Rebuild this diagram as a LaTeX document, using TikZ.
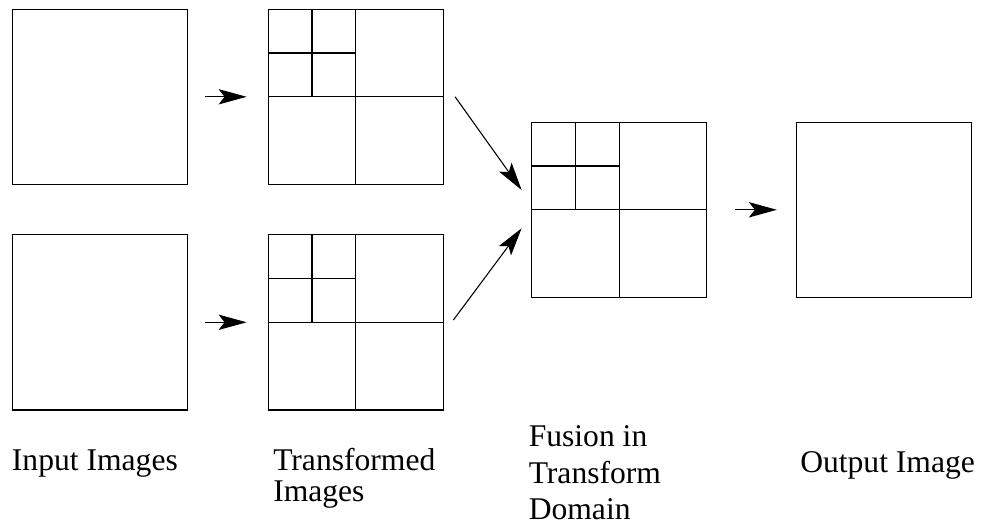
\documentclass[tikz,border=0pt]{standalone}
\usepackage{fontspec}
\setmainfont{Liberation Serif}
\newfontfamily\capfont{Liberation Serif}
\usetikzlibrary{arrows.meta,calc}

\begin{document}
\begin{tikzpicture}[x=0.75pt,y=-0.75pt,
  img/.style={draw, line width=1pt, minimum width=131.4pt, minimum height=131.4pt,
              inner sep=0pt, outer sep=0pt},
  grid/.style={line width=0.9pt},
  arr/.style={line width=0.8pt, -{Stealth[length=21pt,width=11.5pt,inset=4.5pt]}},
  lbl/.style={anchor=base west, inner sep=0pt,
              font=\capfont\fontsize{23.7pt}{23.7pt}\selectfont}]
\useasboundingbox (0,0) rectangle (984,523);

% image squares
\node[img] (in1) at (100,96.8) {};
\node[img] (in2) at (100,322.3) {};
\node[img] (tr1) at (355.8,96.8) {};
\node[img] (tr2) at (355.8,322.3) {};
\node[img] (fu)  at (619.2,209.8) {};
\node[img] (out) at (883.8,209.8) {};

% two-level subband partition of the transformed squares
\foreach \b in {tr1,tr2,fu} {
  \draw[grid] (\b.north) -- (\b.south) (\b.west) -- (\b.east);
  \draw[grid] ($(\b.north west)!0.5!(\b.north)$) -- ($(\b.west)!0.5!(\b.center)$);
  \draw[grid] ($(\b.north west)!0.5!(\b.west)$) -- ($(\b.north)!0.5!(\b.center)$);
}

% connectors
\draw[arr, shorten <=12.8pt, shorten >=16.2pt] (in1.east) -- (tr1.west);
\draw[arr, shorten <=12.8pt, shorten >=16.2pt] (in2.east) -- (tr2.west);
\coordinate (d1s) at ($(tr1.east)+(11.7,0)$);
\coordinate (d1e) at ($(fu.west)+(-10,-19.8)$);
\coordinate (d2s) at ($(tr2.east)+(10,-2.3)$);
\coordinate (d2e) at ($(fu.west)+(-10,18.5)$);
\draw[arr] (d1s) -- (d1e);
\draw[arr] (d2s) -- (d2e);
\draw[arr, shorten <=21.2pt, shorten >=14.5pt] (fu.east) -- (out.west);

% captions
\node[lbl] (l1)  at (11.7,470)   {Input Images};
\node[lbl] (l2a) at (273,470)    {Transformed};
\node[lbl] (l2b) at (273,501.7)  {Images};
\node[lbl] (l3a) at (528.5,446.7) {Fusion in};
\node[lbl] (l3b) at (528.5,483.3) {Transform};
\node[lbl] (l3c) at (528.5,519)   {Domain};
\node[lbl] (l4)  at (800,472.7)  {Output Image};
\end{tikzpicture}
\end{document}
